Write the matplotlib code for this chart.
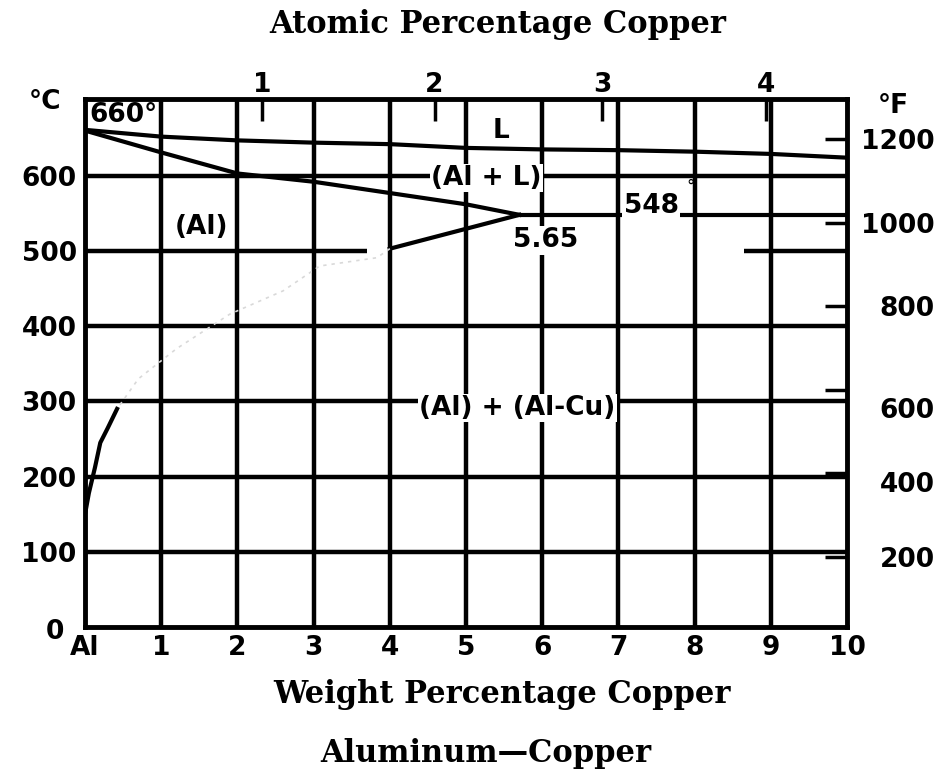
import numpy as np
import matplotlib.pyplot as plt
from matplotlib.transforms import ScaledTranslation

# Al-Cu phase diagram, aluminium-rich end (weight % Cu, deg C)
liq_x = [0, 1, 2, 3, 4, 5, 6, 7, 8, 9, 10]
liq_t = [661, 652, 647, 644, 642, 637, 635, 634, 632, 629, 624]

sol_x = [0, 1, 2, 3, 4, 5, 5.7]
sol_t = [660, 631, 603, 592, 577, 562, 548]

eut_x = [5.7, 10]
eut_t = [548, 548]

# solvus: solid upper part, faint middle part, solid lower part
solv_hi_x = [5.7, 4.0]
solv_hi_t = [548, 503]
solv_mid_x = [4.0, 3.83, 3.08, 2.6, 1.9, 1.2, 0.7, 0.42]
solv_mid_t = [503, 491, 480, 447, 416, 370, 330, 290]
solv_lo_x = [0.42, 0.3, 0.2, 0.13, 0.09, 0.05, 0.0]
solv_lo_t = [290, 265, 245, 212, 195, 178, 150]

x_ticks = list(range(11))
x_labels = ['Al'] + [str(i) for i in range(1, 11)]
c_ticks = [0, 100, 200, 300, 400, 500, 600]
f_ticks = [200, 400, 600, 800, 1000, 1200]
at_ticks = [1, 2, 3, 4]

# horizontal grid, with the gap in the 500 line
h_levels = [100, 200, 300, 400, 600]
h500_from = [0, 8.65]
h500_to = [3.7, 10]

labels = [('L', 5.46, 660, 'center'),
          ('(Al + L)', 5.27, 597, 'center'), ('548', 7.07, 560, 'left'),
          ('5.65', 6.04, 514, 'center'), ('(Al)', 1.53, 532, 'center'),
          ('(Al) + (Al-Cu)', 5.67, 291, 'center')]


def wt_to_at(w):
    w = np.asarray(w, dtype=float)
    a = w / 63.55
    b = (100 - w) / 26.98
    return 100 * a / (a + b)


def at_to_wt(a):
    a = np.asarray(a, dtype=float)
    m = a * 63.55
    n = (100 - a) * 26.98
    return 100 * m / (m + n)


def c_to_f(c):
    return np.asarray(c, dtype=float) * 9 / 5 + 32


def f_to_c(f):
    return (np.asarray(f, dtype=float) - 32) * 5 / 9


bold = dict(family='DejaVu Sans', weight='bold', size=19)
serif = dict(family='DejaVu Serif', weight='bold', size=22)

fig = plt.figure(figsize=(9.46, 7.76), dpi=100)
ax = fig.add_axes([0.0899, 0.1920, 0.8055, 0.6804])
ax.set_xlim(0, 10)
ax.set_ylim(0, 702)

# grid
for xv in range(1, 10):
    ax.axvline(xv, color='k', lw=3.2, zorder=1)
ax.hlines(h_levels, 0, 10, color='k', lw=3.2, zorder=1)
ax.hlines([500] * len(h500_from), h500_from, h500_to, color='k', lw=3.2, zorder=1)

# phase boundaries
ax.plot(liq_x, liq_t, color='k', lw=3, zorder=3)
ax.plot(sol_x, sol_t, color='k', lw=3, zorder=3)
ax.plot(eut_x, eut_t, color='k', lw=3, zorder=3)
ax.plot(solv_hi_x, solv_hi_t, color='k', lw=3, zorder=3)
ax.plot(solv_mid_x, solv_mid_t, color='0.85', lw=1.2, ls=(0, (2, 3)), zorder=3)
ax.plot(solv_lo_x, solv_lo_t, color='k', lw=3, zorder=3)

for txt, xv, tv, ha in labels:
    ax.text(xv, tv, txt, ha=ha, va='center', zorder=4,
            bbox=dict(facecolor='white', edgecolor='none', pad=1.0), **bold)
ax.text(0.06, 664, '660°', ha='left', va='bottom', zorder=4, **bold)
ax.text(7.94, 586, '°', ha='center', va='center', zorder=4,
        family='DejaVu Sans', size=12)

for s in ax.spines.values():
    s.set_linewidth(3.5)

ax.set_xticks(x_ticks)
ax.set_xticklabels(x_labels, **bold)
ax.set_yticks(c_ticks)
ax.set_yticklabels([str(v) for v in c_ticks], **bold)
ax.tick_params(axis='both', length=0)
ax.tick_params(axis='x', pad=6)
ax.tick_params(axis='y', pad=6)
zero = ax.get_yticklabels()[0]
zero.set_transform(zero.get_transform() + ScaledTranslation(-0.13, -0.02, fig.dpi_scale_trans))

top = ax.secondary_xaxis('top', functions=(wt_to_at, at_to_wt))
top.set_xticks(at_ticks)
top.set_xticklabels([str(v) for v in at_ticks], **bold)
top.tick_params(direction='in', length=16, width=2.5, pad=1)

right = ax.secondary_yaxis('right', functions=(c_to_f, f_to_c))
right.set_yticks(f_ticks)
right.set_yticklabels([str(v) for v in f_ticks], ha='right', **bold)
right.tick_params(direction='in', length=16, width=2.5, pad=63)
# a couple of the Fahrenheit labels sit a little below their ticks
for lbl, dy in zip(right.get_yticklabels(), [0, -0.09, -0.18, 0, 0, 0]):
    lbl.set_transform(lbl.get_transform() + ScaledTranslation(0, dy, fig.dpi_scale_trans))

fig.text(45 / 946, 1 - 102 / 776, '°C', ha='center', va='center', **bold)
fig.text(893 / 946, 1 - 106 / 776, '°F', ha='center', va='center', **bold)

fig.text(498 / 946, 1 - 33 / 776, 'Atomic Percentage Copper', ha='center', va='baseline', **serif)
fig.text(502 / 946, 1 - 703 / 776, 'Weight Percentage Copper', ha='center', va='baseline', **serif)
fig.text(486 / 946, 1 - 762 / 776, 'Aluminum\u2014Copper', ha='center', va='baseline', **serif)

fig.savefig('out.png', dpi=100)
